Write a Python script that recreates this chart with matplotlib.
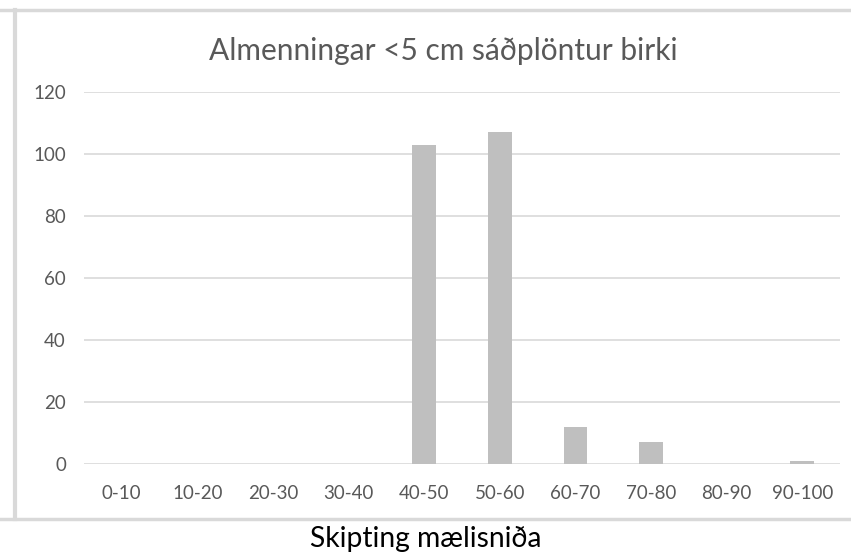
import matplotlib
matplotlib.use("Agg")
import matplotlib.pyplot as plt
from matplotlib.lines import Line2D

categories = ["0-10", "10-20", "20-30", "30-40", "40-50", "50-60",
              "60-70", "70-80", "80-90", "90-100"]
counts = [0, 0, 0, 0, 103, 107, 12, 7, 0, 1]
yticks = [0, 20, 40, 60, 80, 100, 120]

TITLE = "Almenningar <5 cm sáðplöntur birki"
XLABEL = "Skipting mælisniða"

plt.rcParams["font.family"] = ["Lato", "DejaVu Sans"]

W, H = 851, 558
fig = plt.figure(figsize=(W / 100, H / 100), dpi=100)
ax = fig.add_axes([84 / W, (H - 464) / H, (840 - 84) / W, (464 - 92) / H])

x = range(len(categories))
ax.bar(x, counts, width=0.31, color="#bfbfbf", zorder=3)

ax.set_xlim(-0.5, len(categories) - 0.5)
ax.set_ylim(0, 120)
ax.set_yticks(yticks)
ax.set_xticks(list(x))
ax.set_xticklabels(categories)
ax.grid(axis="y", color="#d9d9d9", linewidth=1.2, zorder=0)
for s in ax.spines.values():
    s.set_visible(False)
ax.tick_params(axis="both", length=0, colors="#595959", labelsize=13.5)
ax.tick_params(axis="x", pad=15)
ax.tick_params(axis="y", pad=13)

fig.text(443 / W, 1 - 51 / H, TITLE, ha="center", va="center",
         fontsize=21.5, color="#595959")
fig.text(426 / W, 1 - 539 / H, XLABEL, ha="center", va="center",
         fontsize=20.3, color="black")

# chart area border lines
border = "#d9d9d9"
fig.add_artist(Line2D([0, 1], [1 - 10 / H, 1 - 10 / H], color=border, lw=2.5,
                      transform=fig.transFigure))
fig.add_artist(Line2D([0, 1], [1 - 519 / H, 1 - 519 / H], color=border, lw=2.5,
                      transform=fig.transFigure))
fig.add_artist(Line2D([15 / W, 15 / W], [1 - 519 / H, 1 - 10 / H], color=border,
                      lw=3, transform=fig.transFigure))

fig.savefig("out.png", dpi=100)
